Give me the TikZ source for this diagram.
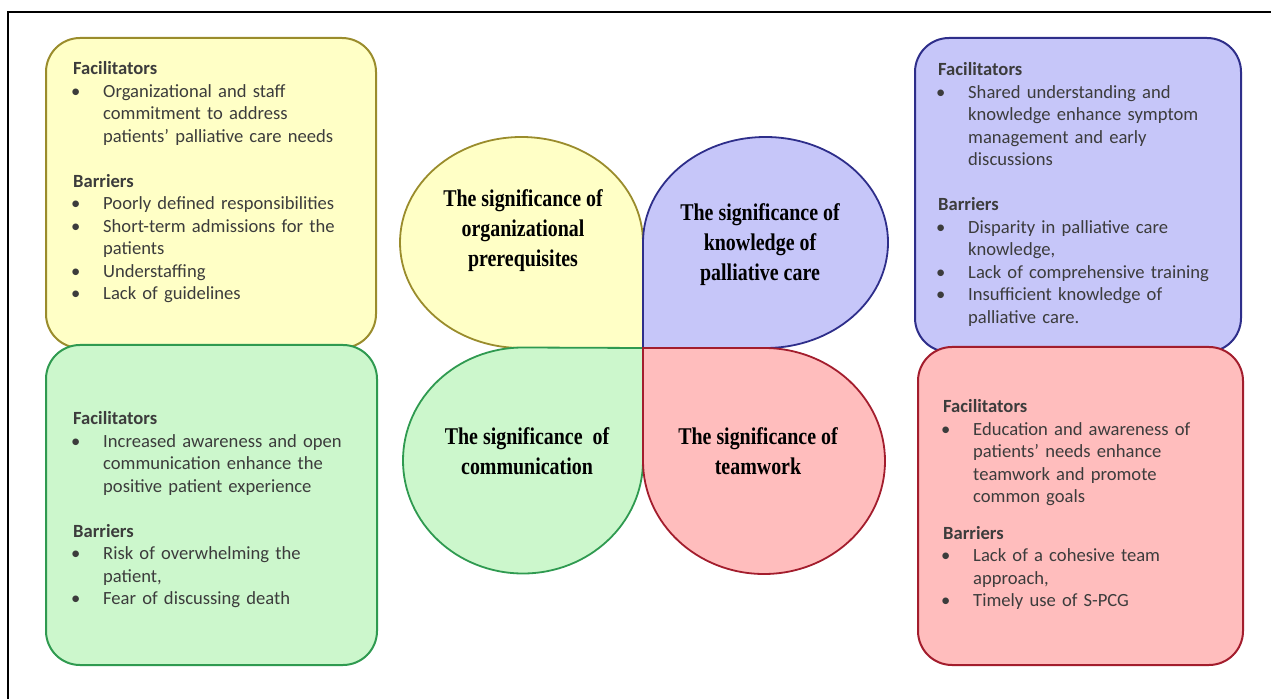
\documentclass[tikz,border=0pt]{standalone}
\usepackage{fontspec}
\setmainfont{Carlito}
\newfontfamily\petalfont[FakeStretch=0.83]{Liberation Serif}
\usepackage{tikz}
\usetikzlibrary{positioning}
\definecolor{yelfill}{HTML}{FFFFC6}
\definecolor{yeldraw}{HTML}{9A8C2C}
\definecolor{grnfill}{HTML}{CCF7CC}
\definecolor{grndraw}{HTML}{2F9A50}
\definecolor{blufill}{HTML}{C6C6F9}
\definecolor{bludraw}{HTML}{2E2E8A}
\definecolor{redfill}{HTML}{FFBDBD}
\definecolor{reddraw}{HTML}{A31D2D}
\definecolor{listgray}{HTML}{3C3C3C}
\tikzset{
         panel/.style={draw,line width=2pt,rounded corners=34pt,inner sep=0pt},
         listtxt/.style={anchor=north west,inner sep=0pt,text width=320pt,align=left,
                         font=\fontsize{18.6}{22.5}\selectfont,text=listgray},
         petal/.style={line width=1.8pt},
         petaltxt/.style={font=\petalfont\bfseries\fontsize{24}{30}\selectfont,align=center,inner sep=0pt}
        }
\newcommand{\heading}[1]{\par\noindent\textbf{#1}}
\newcommand{\bitem}[1]{\par\hangindent=30pt\hangafter=1\noindent\makebox[30pt][l]{\hspace{-2pt}\textbullet}#1\par}
\newcommand{\gap}[1][22.5pt]{\par\vspace{#1}}

\begin{document}
\begin{tikzpicture}[x=1pt,y=1pt]
\useasboundingbox (0,0) rectangle (1271,699);
\draw[line width=1.6pt](8,0)--(8,687)--(1271,687); %frame
%side panels
\node[panel,draw=yeldraw,fill=yelfill,minimum width=330pt,minimum height=310pt](orgbox)at(211,506){};
\node[panel,draw=grndraw,fill=grnfill,minimum width=331pt,minimum height=320pt](combox)at(211.5,194){};
\node[panel,draw=bludraw,fill=blufill,minimum width=326pt,minimum height=314pt](knowbox)at(1078,504){};
\node[panel,draw=reddraw,fill=redfill,minimum width=325pt,minimum height=318pt](teambox)at(1080.5,193){};
%petals
\draw[petal,draw=yeldraw,fill=yelfill](643,351)--(521.5,351) arc[start angle=270,end angle=0,x radius=121.5,y radius=105.5]--cycle;
\draw[petal,draw=bludraw,fill=blufill](643,351)--(643,456.5) arc[start angle=180,end angle=-90,x radius=122.5,y radius=105.5]--cycle;
\draw[petal,draw=grndraw,fill=grnfill](643,351)--(643,238.5) arc[start angle=0,end angle=-270,x radius=120,y radius=113]--cycle;
\draw[petal,draw=reddraw,fill=redfill](643,351)--(764,351) arc[start angle=90,end angle=-180,x radius=121,y radius=113]--cycle;
%petal labels
\node[petaltxt](orglbl)at(523,468){The significance of\\organizational\\prerequisites};
\node[petaltxt](knowlbl)at(760,454){The significance of\\knowledge of\\palliative care};
\node[petaltxt](comlbl)at(527,248){The significance\ \ of\\communication};
\node[petaltxt](teamlbl)at(758,248){The significance of\\teamwork};
%lists
\node[listtxt](orgtxt)at(73,647){\heading{Facilitators}
 \bitem{Organizational and staff\newline commitment to address\newline patients' palliative care needs}
 \gap
 \heading{Barriers}
 \bitem{Poorly defined responsibilities}
 \bitem{Short-term admissions for the\newline patients}
 \bitem{Understaffing}
 \bitem{Lack of guidelines}};
\node[listtxt](knowtxt)at(938,646){\heading{Facilitators}
 \bitem{Shared understanding and\newline knowledge enhance symptom\newline management and early\newline discussions}
 \gap
 \heading{Barriers}
 \bitem{Disparity in palliative care\newline knowledge,}
 \bitem{Lack of comprehensive training}
 \bitem{Insufficient knowledge of\newline palliative care.}};
\node[listtxt](comtxt)at(73,297){\heading{Facilitators}
 \bitem{Increased awareness and open\newline communication enhance the\newline positive patient experience}
 \gap
 \heading{Barriers}
 \bitem{Risk of overwhelming the\newline patient,}
 \bitem{Fear of discussing death}};
\node[listtxt](teamtxt)at(943,309){\heading{Facilitators}
 \bitem{Education and awareness of\newline patients' needs enhance\newline teamwork and promote\newline common goals}
 \gap[14pt]
 \heading{Barriers}
 \bitem{Lack of a cohesive team\newline approach,}
 \bitem{Timely use of S-PCG}};
\end{tikzpicture}
\end{document}
